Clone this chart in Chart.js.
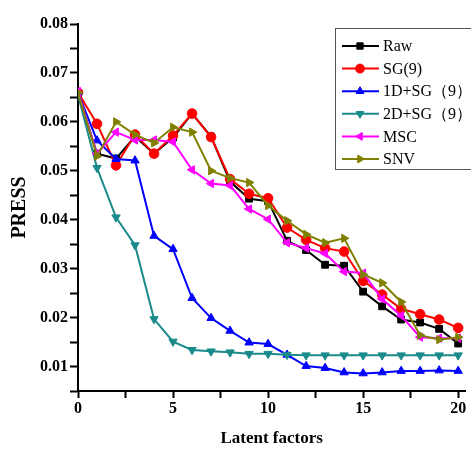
<!DOCTYPE html>
<html>
<head>
<meta charset="utf-8">
<script src="https://cdn.jsdelivr.net/npm/chart.js@4/dist/chart.umd.min.js"></script>
<style>
  html, body { margin: 0; padding: 0; background: #fff; }
  #wrap { width: 471px; height: 449px; }
</style>
</head>
<body>
<div id="wrap"><canvas id="chart"></canvas></div>
<script>
const factors = [0, 1, 2, 3, 4, 5, 6, 7, 8, 9, 10, 11, 12, 13, 14, 15, 16, 17, 18, 19, 20];
const xTicks = [0, 2.5, 5, 7.5, 10, 12.5, 15, 17.5, 20];

const seriesNames = ["Raw", "SG(9)", "1D+SG\uff089\uff09", "2D+SG\uff089\uff09", "MSC", "SNV"];

const raw = [0.0657, 0.0535, 0.0525, 0.0570, 0.0535, 0.0568, 0.0617, 0.0570, 0.0478, 0.0443, 0.0438,
  0.0357, 0.0338, 0.0308, 0.0306, 0.0253, 0.0223, 0.0196, 0.0190, 0.0177, 0.0147];
const sg9 = [0.0660, 0.0596, 0.0511, 0.0574, 0.0535, 0.0572, 0.0617, 0.0569, 0.0483, 0.0453, 0.0444,
  0.0384, 0.0359, 0.0342, 0.0335, 0.0275, 0.0247, 0.0218, 0.0207, 0.0196, 0.0179];
const d1sg = [0.0660, 0.0562, 0.0524, 0.0521, 0.0367, 0.0340, 0.0240, 0.0199, 0.0173, 0.0149, 0.0146,
  0.0124, 0.0101, 0.0097, 0.0088, 0.0086, 0.0088, 0.0091, 0.0091, 0.0092, 0.0091];
const d2sg = [0.0655, 0.0506, 0.0405, 0.0348, 0.0197, 0.0151, 0.0134, 0.0131, 0.0129, 0.0126, 0.0126,
  0.0124, 0.0123, 0.0123, 0.0123, 0.0123, 0.0123, 0.0123, 0.0123, 0.0123, 0.0123];
const msc = [0.0662, 0.0535, 0.0579, 0.0563, 0.0563, 0.0559, 0.0502, 0.0474, 0.0470, 0.0422, 0.0401,
  0.0353, 0.0342, 0.0331, 0.0294, 0.0291, 0.0238, 0.0204, 0.0160, 0.0158, 0.0158];
const snv = [0.0660, 0.0530, 0.0600, 0.0574, 0.0557, 0.0589, 0.0579, 0.0500, 0.0485, 0.0476, 0.0429,
  0.0398, 0.0370, 0.0353, 0.0362, 0.0288, 0.0271, 0.0232, 0.0164, 0.0155, 0.0160];

const serif = "'Liberation Serif', 'Times New Roman', serif";

function series(i, values, color, style, rot) {
  return {
    label: seriesNames[i],
    data: factors.map((x, k) => ({ x, y: values[k] })),
    borderColor: color,
    backgroundColor: color,
    borderWidth: 2,
    pointStyle: style,
    rotation: rot,
    pointRadius: 4.8,
    pointBorderWidth: 1,
    order: 6 - i
  };
}

// legend box like the original, drawn on top of the chart
const boxLegend = {
  id: "boxLegend",
  afterDraw(chart) {
    const ctx = chart.ctx;
    ctx.save();
    ctx.fillStyle = "#fff";
    ctx.fillRect(335, 28, 140, 141);
    ctx.strokeStyle = "#555";
    ctx.lineWidth = 1;
    ctx.strokeRect(335.5, 28.5, 140, 141);
    chart.data.datasets.forEach((ds, i) => {
      const y = 46 + i * 22.6;
      ctx.strokeStyle = ds.borderColor;
      ctx.fillStyle = ds.borderColor;
      ctx.lineWidth = 2;
      ctx.beginPath();
      ctx.moveTo(342, y);
      ctx.lineTo(379, y);
      ctx.stroke();
      ctx.lineWidth = 1;
      Chart.helpers.drawPoint(ctx, { pointStyle: ds.pointStyle, rotation: ds.rotation, radius: 4.5, borderWidth: 1 }, 360, y);
      ctx.fillStyle = "#000";
      ctx.font = "16px " + serif;
      ctx.textBaseline = "middle";
      ctx.textAlign = "left";
      ctx.fillText(ds.label, 383, y + 1);
    });
    ctx.restore();
  }
};

new Chart(document.getElementById("chart"), {
  type: "line",
  data: {
    datasets: [
      series(0, raw, "#000000", "rect", 0),
      series(1, sg9, "#ff0000", "circle", 0),
      series(2, d1sg, "#0000ff", "triangle", 0),
      series(3, d2sg, "#1a8a8a", "triangle", 180),
      series(4, msc, "#ff00ff", "triangle", -90),
      series(5, snv, "#808000", "triangle", 90)
    ]
  },
  options: {
    responsive: true,
    maintainAspectRatio: false,
    animation: false,
    layout: { padding: { top: 24, right: 0, left: 0, bottom: 0 } },
    plugins: { legend: { display: false }, tooltip: { enabled: false } },
    scales: {
      x: {
        type: "linear",
        min: 0,
        max: 20.37,
        ticks: {
          autoSkip: false,
          maxRotation: 0,
          padding: 1,
          color: "#000",
          font: { family: serif, size: 16, weight: "bold" },
          callback: v => (Math.abs(v % 5) < 1e-6 ? String(Math.round(v)) : "")
        },
        afterBuildTicks: s => { s.ticks = xTicks.map(v => ({ value: v })); },
        afterFit: s => { s.height = 58; },
        grid: { drawOnChartArea: false, tickLength: 7, tickWidth: 2, tickColor: "#000" },
        border: { color: "#000", width: 2 },
        title: {
          display: true,
          text: "Latent factors",
          color: "#000",
          font: { family: serif, size: 17, weight: "bold" },
          padding: { top: 0, bottom: 0 }
        }
      },
      y: {
        min: 0.005,
        max: 0.08,
        ticks: {
          stepSize: 0.005,
          padding: 2,
          color: "#000",
          font: { family: serif, size: 16, weight: "bold" },
          callback: v => (Math.round(v * 1000) % 10 === 0 ? v.toFixed(2) : "")
        },
        afterFit: s => { s.width = 78; },
        grid: { drawOnChartArea: false, tickLength: 8, tickWidth: 2, tickColor: "#000" },
        border: { color: "#000", width: 2 },
        title: {
          display: true,
          text: "PRESS",
          color: "#000",
          font: { family: serif, size: 20, weight: "bold" },
          padding: { top: 8, bottom: 0 }
        }
      }
    }
  },
  plugins: [boxLegend]
});
</script>
</body>
</html>
